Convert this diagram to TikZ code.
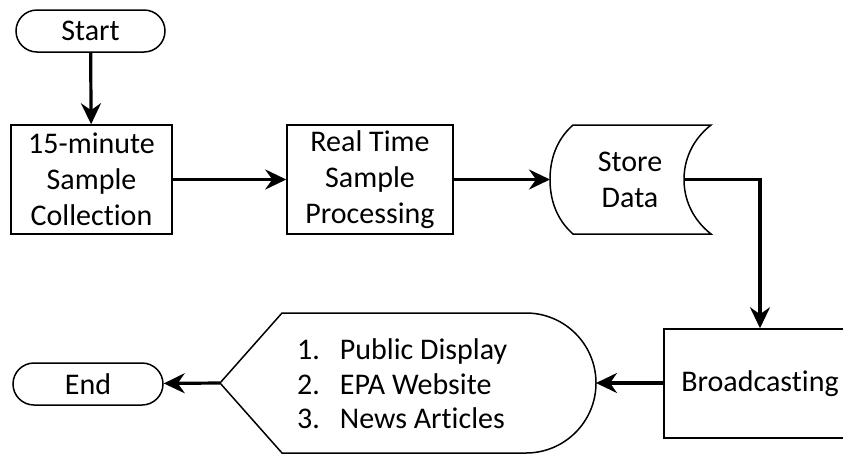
\documentclass[tikz,border=0pt]{standalone}
\usepackage{fontspec}
\setmainfont{Carlito}[Ligatures=NoCommon]
\usetikzlibrary{arrows.meta,shapes.misc}
\begin{document}
\begin{tikzpicture}[x=1pt,y=-1pt,
  every node/.style={font=\fontsize{30}{36}\selectfont, align=center, inner sep=0pt},
  shapeline/.style={draw, line width=1.5pt},
  box/.style={shapeline, minimum width=161pt, minimum height=109pt},
  term/.style={shapeline, rounded rectangle, minimum width=149pt, minimum height=42pt},
  conn/.style={line width=3.2pt, -{Stealth[length=21pt,width=20pt,inset=7pt]}}]
\useasboundingbox (0,0) rectangle (843,453);
% terminals and boxes
\node[term] (start) at (90.5,31) {Start};
\node[box] (collect) at (91.5,179.5) {15-minute\\Sample\\Collection};
\node[box, minimum width=166pt] (proc) at (370,179.5) {Real Time\\Sample\\Processing};
% stored data shape
\draw[shapeline] (573,125) -- (711,125)
  .. controls (692,140) and (684,160) .. (684,179.5)
  .. controls (684,199) and (692,219) .. (711,234)
  -- (573,234)
  .. controls (556,219) and (550,199) .. (550,179.5)
  .. controls (550,160) and (556,140) .. (573,125) -- cycle;
\node (store) at (630,180) {Store\\Data};
\coordinate (storeL) at (550,179.5);
\coordinate (storeR) at (684,179.5);
% broadcasting
\node[shapeline, minimum width=192pt, minimum height=109pt] (bc) at (760,383.5) {Broadcasting};
% display shape
\draw[shapeline] (220,383) -- (282,313) -- (526,313)
  arc[start angle=90, end angle=-90, radius=70pt] -- (282,453) -- cycle;
\node[anchor=west, align=left, font=\fontsize{30}{34.5}\selectfont] (disp) at (297,384)
  {1.\hspace{20pt}Public Display\\2.\hspace{20pt}EPA Website\\3.\hspace{20pt}News Articles};
\coordinate (dispL) at (220,383);
\coordinate (dispR) at (596,383);
\node[term, minimum width=150pt] (end) at (88,384) {End};
% connectors
\draw[conn] (start) -- (collect);
\draw[conn] (collect) -- (proc);
\draw[conn] (proc) -- (storeL);
\draw[conn] (storeR) -| (bc.north);
\draw[conn] (bc.west |- dispR) -- (dispR);
\draw[conn] (dispL) -- (end);
\end{tikzpicture}
\end{document}
